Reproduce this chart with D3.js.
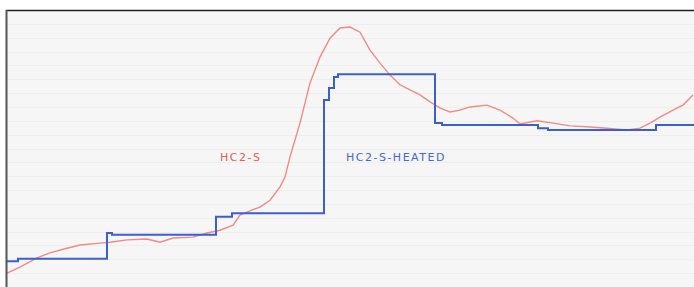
<!DOCTYPE html>
<html>
<head>
<meta charset="utf-8">
<script src="https://cdn.jsdelivr.net/npm/d3@7"></script>
<style>
  body { margin: 0; background: #fff; }
  svg { display: block; }
  .lbl { font-family: "DejaVu Sans", Verdana, sans-serif; font-size: 11px; letter-spacing: 1.5px; }
</style>
</head>
<body>
<div id="chart"></div>
<script>
// tiempo (min) y temperatura
const redX = [1, 14, 31, 44, 61, 74, 94, 104, 121, 141, 154, 167, 187, 201, 214, 227, 234, 244, 254, 264,
  274, 279, 284, 294, 304, 314, 324, 334, 344, 354, 364, 374, 384, 394, 404, 414, 424, 434, 444, 454, 464,
  481, 494, 507, 514, 531, 547, 564, 581, 601, 621, 634, 644, 654, 667, 677, 687];
const redY = [23.0, 24.3, 26.3, 27.4, 28.4, 29.1, 29.5, 29.7, 30.2, 30.4, 29.7, 30.6, 30.8, 31.7, 32.3, 33.4,
  35.6, 36.5, 37.3, 38.8, 41.7, 43.8, 48.2, 55.5, 64.2, 69.8, 73.9, 76.1, 76.3, 75.2, 71.3, 68.5, 65.9, 63.8,
  62.7, 61.6, 60.1, 58.8, 57.9, 58.3, 59.0, 59.4, 58.3, 56.6, 55.3, 56.0, 55.5, 54.9, 54.7, 54.4, 54.0, 54.4,
  55.5, 56.8, 58.3, 59.4, 61.6];

const blueX = [1, 12, 101, 106, 210, 226, 318, 323, 328, 332, 429, 436, 532, 542, 650, 688];
const blueY = [25.6, 26.1, 31.7, 31.3, 35.2, 36.0, 60.5, 63.1, 65.5, 66.1, 55.5, 55.1, 54.4, 54.0, 55.1, 55.1];

const seriesNames = ['HC2-S', 'HC2-S-HEATED'];
const labelPos = [[214, 47.3], [340, 47.3]];

const ancho = 694, alto = 287;
const margin = { top: 10, left: 6 };

const svg = d3.select('#chart').append('svg')
  .attr('width', ancho)
  .attr('height', alto);

const x = d3.scaleLinear().domain([0, 688]).range([margin.left, ancho]);
const y = d3.scaleLinear().domain([20, 80]).range([alto, margin.top]);

// fondo
svg.append('rect')
  .attr('x', margin.left).attr('y', margin.top)
  .attr('width', ancho - margin.left).attr('height', alto - margin.top)
  .attr('fill', '#f6f6f6');

// lineas de fondo
svg.append('g')
  .selectAll('line')
  .data(d3.range(23, 80, 3))
  .enter().append('line')
  .attr('x1', margin.left).attr('x2', ancho)
  .attr('y1', d => Math.round(y(d)) + 0.5).attr('y2', d => Math.round(y(d)) + 0.5)
  .attr('stroke', '#eeeeee')
  .attr('stroke-width', 1);

const redData = redX.map((d, i) => [d, redY[i]]);
const blueData = blueX.map((d, i) => [d, blueY[i]]);

svg.append('path')
  .datum(redData)
  .attr('d', d3.line().x(d => x(d[0])).y(d => y(d[1])))
  .attr('fill', 'none')
  .attr('stroke', '#f08a86')
  .attr('stroke-width', 1.4);

svg.append('path')
  .datum(blueData)
  .attr('d', d3.line().x(d => x(d[0])).y(d => y(d[1])).curve(d3.curveStepAfter))
  .attr('fill', 'none')
  .attr('stroke', '#3b5fd0')
  .attr('stroke-width', 2);

// etiquetas
const colores = ['#e55a5e', '#4567d6'];
svg.selectAll('text.lbl')
  .data(seriesNames)
  .enter().append('text')
  .attr('class', 'lbl')
  .attr('x', (d, i) => x(labelPos[i][0]))
  .attr('y', (d, i) => y(labelPos[i][1]))
  .attr('fill', (d, i) => colores[i])
  .text(d => d);

// borde
svg.append('line')
  .attr('x1', margin.left).attr('x2', ancho)
  .attr('y1', margin.top + 0.5).attr('y2', margin.top + 0.5)
  .attr('stroke', '#222').attr('stroke-width', 1.3);
svg.append('line')
  .attr('x1', margin.left + 0.5).attr('x2', margin.left + 0.5)
  .attr('y1', margin.top).attr('y2', alto)
  .attr('stroke', '#555').attr('stroke-width', 2);
</script>
</body>
</html>
